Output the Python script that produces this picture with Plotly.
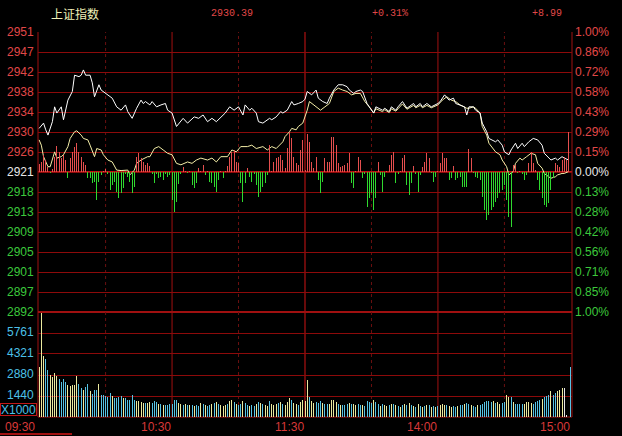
import plotly.graph_objects as go

# ---------------- data ----------------
INDEX_NAME = "上证指数"
PRE_CLOSE = 2921.40
LAST_PRICE = "2930.39"
CHG_PCT = "+0.31%"
CHG = "+8.99"

time_labels = ["09:30", "10:30", "11:30", "14:00", "15:00"]
time_label_min = [0, 60, 120, 180, 240]

left_labels = ["2951", "2947", "2942", "2938", "2934", "2930", "2926", "2921",
               "2918", "2913", "2909", "2905", "2901", "2897", "2892"]
right_labels = ["1.00%", "0.86%", "0.72%", "0.58%", "0.43%", "0.29%", "0.15%", "0.00%",
                "0.13%", "0.28%", "0.42%", "0.56%", "0.71%", "0.85%", "1.00%"]
level_steps = [7, 6, 5, 4, 3, 2, 1, 0, -1, -2, -3, -4, -5, -6, -7]  # in 1/7 of 1%

vol_labels = ["5761", "4321", "2880", "1440"]
vol_ticks = [5761, 4321, 2880, 1440]
VOL_MAX = 7201

# index (white) line: minute index, price
white_t = [0, 2, 3, 4, 6, 7, 8, 10, 11, 13, 15, 16, 18, 19, 20, 21, 23, 24, 25, 27, 28, 30, 33, 35, 37, 39, 40, 42,
           44, 46, 47, 48, 50, 51, 53, 55, 57, 58, 60, 62, 65, 67, 70, 72, 74, 76, 78, 80, 82, 84, 86, 88, 90, 92,
           93, 95, 96, 98, 99, 101, 104, 105, 107, 109, 110, 112, 114, 115, 117, 119, 120, 121, 123, 125, 126, 128,
           130, 131, 133, 135, 137, 139, 140, 142, 143, 145, 146, 148, 149, 151, 152, 155, 156, 158, 159, 161, 162,
           164, 166, 167, 169, 170, 172, 173, 175, 177, 179, 180, 181, 183, 185, 187, 188, 190, 192, 193, 194, 196,
           197, 199, 200, 202, 203, 206, 207, 209, 210, 212, 213, 215, 216, 218, 219, 221, 223, 225, 227, 228, 230,
           231, 233, 234, 236, 237, 239]
white_v = [2930.5, 2931.6, 2930.2, 2929.1, 2931.9, 2935.0, 2933.7, 2935.0, 2932.3, 2936.4, 2938.2, 2941.6, 2941.3,
           2941.6, 2942.7, 2941.6, 2941.6, 2940.0, 2937.1, 2939.6, 2938.5, 2937.8, 2936.8, 2935.0, 2934.3, 2935.4,
           2934.0, 2932.6, 2934.7, 2936.4, 2935.7, 2936.1, 2935.4, 2936.1, 2935.0, 2935.4, 2935.7, 2934.3, 2933.7,
           2930.9, 2932.6, 2931.6, 2932.9, 2932.6, 2933.3, 2931.9, 2932.6, 2931.9, 2932.9, 2933.7, 2935.0, 2934.3,
           2935.0, 2933.3, 2935.4, 2934.3, 2934.7, 2933.7, 2931.9, 2931.6, 2932.6, 2932.3, 2932.9, 2934.0, 2933.7,
           2934.3, 2936.1, 2935.4, 2935.7, 2936.1, 2936.6, 2938.2, 2937.5, 2938.5, 2936.8, 2936.1, 2935.7, 2936.8,
           2938.5, 2939.6, 2939.6, 2939.2, 2938.5, 2937.8, 2938.2, 2938.5, 2938.2, 2935.7, 2935.0, 2933.7, 2935.0,
           2934.3, 2934.7, 2934.0, 2935.0, 2934.3, 2935.0, 2936.1, 2934.7, 2935.0, 2935.7, 2935.0, 2935.7, 2935.0,
           2935.7, 2935.0, 2935.4, 2935.7, 2936.1, 2937.5, 2936.4, 2936.8, 2935.7, 2935.4, 2935.0, 2933.3, 2935.0,
           2935.0, 2934.3, 2933.7, 2931.6, 2929.8, 2928.4, 2927.7, 2928.1, 2927.0, 2925.6, 2925.0, 2926.0, 2927.4,
           2926.3, 2927.4, 2926.7, 2927.7, 2928.4, 2928.1, 2927.0, 2925.3, 2924.3, 2923.9, 2924.3, 2923.9, 2924.6,
           2924.3, 2923.9]

# leading (yellow) line
avg_t = [0, 1, 2, 4, 5, 7, 8, 10, 11, 13, 14, 16, 17, 19, 20, 22, 23, 25, 26, 28, 29, 31, 33, 35, 37, 40, 41, 43, 44,
         46, 49, 50, 52, 54, 56, 58, 60, 62, 64, 67, 69, 71, 73, 76, 78, 80, 82, 85, 87, 89, 91, 94, 96, 98, 101,
         103, 105, 107, 110, 111, 113, 114, 116, 117, 119, 120, 121, 122, 124, 127, 129, 131, 133, 135, 137, 139,
         141, 143, 145, 147, 149, 151, 152, 155, 156, 158, 159, 161, 162, 164, 166, 167, 169, 170, 172, 173, 175,
         177, 179, 180, 182, 184, 186, 188, 190, 193, 194, 196, 197, 199, 200, 202, 203, 205, 206, 208, 209, 211,
         212, 214, 215, 217, 218, 220, 222, 224, 225, 227, 228, 230, 231, 233, 234, 236, 237, 239]
avg_v = [2928.1, 2927.0, 2924.6, 2922.5, 2922.5, 2925.6, 2924.3, 2924.6, 2925.0, 2926.7, 2928.4, 2929.8, 2930.0,
         2929.1, 2928.4, 2928.1, 2927.0, 2924.6, 2926.3, 2926.0, 2925.0, 2923.9, 2923.5, 2921.8, 2921.7, 2921.8,
         2920.8, 2921.8, 2923.2, 2923.9, 2924.6, 2924.6, 2926.3, 2926.7, 2926.0, 2925.3, 2925.0, 2923.2, 2922.9,
         2923.5, 2923.2, 2923.9, 2924.3, 2923.9, 2924.3, 2923.5, 2924.6, 2924.6, 2926.0, 2925.6, 2926.7, 2926.7,
         2927.0, 2926.3, 2926.7, 2926.0, 2926.7, 2926.3, 2927.7, 2928.8, 2929.8, 2930.5, 2930.2, 2930.9, 2931.6,
         2932.9, 2934.3, 2936.1, 2935.4, 2934.3, 2935.0, 2935.7, 2938.2, 2938.9, 2938.5, 2938.2, 2937.5, 2937.8,
         2937.8, 2936.1, 2935.0, 2933.7, 2934.6, 2934.0, 2934.4, 2933.8, 2934.6, 2934.1, 2934.6, 2935.6, 2934.5,
         2934.8, 2935.3, 2934.8, 2935.3, 2934.8, 2935.3, 2934.8, 2935.1, 2935.4, 2936.4, 2937.1, 2936.4, 2936.1,
         2935.4, 2934.7, 2934.7, 2935.0, 2934.7, 2933.7, 2930.9, 2929.1, 2927.4, 2926.3, 2925.6, 2925.0, 2923.9,
         2922.5, 2920.8, 2921.5, 2923.2, 2924.3, 2923.9, 2924.6, 2925.3, 2925.0, 2923.2, 2922.2, 2921.1, 2920.4,
         2920.1, 2920.4, 2920.8, 2921.1, 2921.1, 2921.5]

# buy/sell strength bars (positive red, negative green), one per minute
strength = [
    8, 10, 17, 12, 5, -1, 3, 15, 26, 20,
    14, 17, 12, -6, 14, 20, 25, 29, 20, 15,
    10, 7, -6, -6, -11, -10, -28, -10, -3, 1,
    3, -2, -18, -13, -10, -20, -26, -21, -16, -2,
    -5, -10, -21, -15, 15, 19, 14, 10, 7, 9,
    6, -2, -11, -2, -6, -5, -8, -2, -5, -3,
    -28, -40, -30, -12, -2, 5, 1, -1, 1, -13,
    -16, -11, 4, 1, 7, -3, 1, -10, -11, -15,
    -20, -8, 1, -6, 1, 6, 15, 20, 22, 10,
    9, -11, -30, -11, 4, -5, -10, -2, -13, -25,
    -20, -15, -11, -3, 27, 1, 10, 14, 15, 17,
    12, 4, 24, 40, 34, 15, 9, 7, 22, 32,
    2, 38, 30, 10, 4, 15, -8, -21, -10, 14,
    10, 10, 35, 35, 27, 9, 5, 6, 7, 9,
    19, -11, -16, 1, 15, 12, -6, -2, -35, -26,
    -21, -38, -26, 10, -3, -20, -5, 1, 7, 17,
    20, -11, -2, 1, 14, 17, -13, -23, -11, 6,
    -2, -20, -3, 5, 10, 19, 14, -1, -10, -5,
    1, 9, 19, 14, 14, -8, -6, 6, -8, -6,
    -5, -15, -15, -15, 23, 14, -1, -5, -6, -8,
    -25, -38, -48, -43, -38, -35, -30, -26, -21, -18,
    -13, -28, -45, -55, 7, 7, -1, 1, -2, -8,
    -3, 9, 20, 9, 2, -8, -18, -26, -33, -35,
    -31, -18, -6, 9, 7, 5, 12, 15, 12, 40,
    0]

# volume (x1000 lots), one per minute
volume = [
    3430, 7150, 4190, 3960, 3200, 2860, 2740, 3020, 2790, 2590,
    2400, 2590, 2400, 2170, 2130, 2170, 2170, 2810, 2240, 1990,
    1870, 2060, 2240, 1780, 1560, 1830, 1830, 2240, 1490, 1490,
    1420, 1370, 1670, 1440, 1320, 1280, 1370, 1420, 1280, 1280,
    1140, 1190, 1490, 1140, 1100, 1100, 1030, 980, 980, 960,
    1030, 960, 1080, 1030, 870, 870, 820, 820, 820, 870,
    870, 1140, 1140, 980, 870, 820, 870, 820, 820, 820,
    750, 820, 750, 980,
    900, 820, 750, 800, 870, 960, 1030, 890, 820, 750,
    800, 870, 1100, 1200, 1030, 890, 820, 870, 1100, 960,
    800, 750, 820, 750, 870, 1030, 960, 870, 800, 750,
    1100, 870, 820, 890, 960, 1030, 890, 820, 1030, 1300,
    1200, 960, 890, 820, 1030, 1200, 1100, 2540, 1370, 1100,
    960, 1030, 960, 1100, 960, 890, 870, 890, 1200, 1140,
    1030, 890, 820, 800, 820, 870, 960, 870, 890, 800,
    870, 820, 800, 750, 1100, 1030, 960, 1140, 1030, 870,
    750, 890, 800, 750, 800, 870, 890, 820, 750, 700,
    820, 870, 820, 960, 800, 750, 700, 870, 750, 700,
    750, 820, 800, 700, 750, 700, 750, 800, 870, 820,
    800, 750, 700, 750, 700, 750, 800, 820, 870, 960,
    890, 820, 750, 700, 800, 820,
    870, 1030, 1080, 1080, 1030, 1080, 960, 1030, 890, 960,
    1030, 1490, 1370, 1370, 1030, 890, 870, 870, 870, 870,
    1030, 1030, 980, 870, 1030, 1080, 1140, 1210, 1370, 1420,
    1530, 1760, 1530, 1670, 1780, 1830, 2010, 2010, 110, 0,
    3450]

# minute direction: u = up (yellow volume), d = down (cyan volume), a = closing auction
vol_dir = ("uuudduuuudddd"                 # 0-12
           "uuuuudduddudddudd" "d"         # 13-30
           "ddudddduddddduuuuduu"          # 31-50
           "dddududddddduudududud" "du"    # 51-73
           "duddud"                        # 74-79
           "uduuuduudu"                    # 80-89
           "ddudduddud"                    # 90-99
           "uduuduuudu"                    # 100-109
           "duuuduuduuu"                   # 110-120
           "uduudddudd" "u"                # 121-131
           "uuududdduduuddud"              # 132-147
           "dddudduduudud"                 # 148-160
           "udududududududududud"          # 161-180
           "uuuduudduddudduddud"           # 181-199
           "ddddduduudduud"                # 200-213
           "udddduuuudddduddduddu" "uuaaa")  # 214-240
vol_dir = (vol_dir + "d" * 241)[:241]

minutes = list(range(241))

# ---------------- styling ----------------
BG = "#000000"
GRID = "#8c0a0a"
RED_TXT = "#e04848"
GREEN_TXT = "#3cc83c"
CYAN_TXT = "#4cc0e8"
FONT = "Liberation Sans, Arial, sans-serif"
MONO = "Liberation Mono, DejaVu Sans Mono, monospace"

PLOT_W = 534
VOL_FRAC = 105 / 385.0
BAR_W = 241.0 / PLOT_W  # exactly one screen pixel wide

price_lo = PRE_CLOSE * 0.99
price_hi = PRE_CLOSE * 1.01
levels = [PRE_CLOSE * (1 + s / 700.0) for s in level_steps]

# near-opaque rgba colours make plotly snap bar edges to whole pixels (crisp 1px bars)
UP_BAR = "rgba(232,80,80,0.99)"
DN_BAR = "rgba(48,220,48,0.99)"
vcol = {"u": "rgba(238,236,160,0.99)", "d": "rgba(88,196,230,0.99)", "a": "rgba(232,232,232,0.99)"}

fig = go.Figure()

# strength bars
fig.add_trace(go.Bar(
    x=minutes, y=strength,
    marker=dict(color=[UP_BAR if v > 0 else DN_BAR for v in strength], line=dict(width=0)),
    width=BAR_W, yaxis="y3", xaxis="x", showlegend=False, hoverinfo="skip"))

# volume bars
fig.add_trace(go.Bar(
    x=minutes, y=volume,
    marker=dict(color=[vcol[c] for c in vol_dir], line=dict(width=0)),
    width=BAR_W, yaxis="y2", xaxis="x", showlegend=False, hoverinfo="skip"))

# lines
fig.add_trace(go.Scatter(x=avg_t, y=avg_v, mode="lines", line=dict(color="#f4eea8", width=1),
                         yaxis="y", showlegend=False, hoverinfo="skip"))
fig.add_trace(go.Scatter(x=white_t, y=white_v, mode="lines", line=dict(color="#ffffff", width=1),
                         yaxis="y", showlegend=False, hoverinfo="skip"))

shapes = []
# zero line
shapes.append(dict(type="line", xref="paper", x0=0, x1=1, yref="y", y0=PRE_CLOSE, y1=PRE_CLOSE,
                   line=dict(color="#b81414", width=2), layer="below"))
# separator between price and volume panels
shapes.append(dict(type="line", xref="paper", x0=0, x1=1, yref="paper", y0=VOL_FRAC, y1=VOL_FRAC,
                   line=dict(color="#a01010", width=2), layer="below"))
# bottom line
shapes.append(dict(type="line", xref="paper", x0=0, x1=1, yref="paper", y0=0, y1=0,
                   line=dict(color="#a01010", width=1), layer="below"))
# borders
for xp in (0, 1):
    shapes.append(dict(type="line", xref="paper", x0=xp, x1=xp, yref="paper", y0=0, y1=1,
                       line=dict(color="#a01010", width=1), layer="below"))
# vertical grid
for m in (60, 120, 180):
    shapes.append(dict(type="line", xref="x", x0=m, x1=m, yref="paper", y0=0, y1=1,
                       line=dict(color="#a01010", width=1.3 if m == 120 else 1), layer="below"))
for m in (30, 90, 150, 210):
    shapes.append(dict(type="line", xref="x", x0=m, x1=m, yref="paper", y0=0, y1=1,
                       line=dict(color="#6a1010", width=1, dash="dot"), layer="below"))
# small tab underline at bottom-left
shapes.append(dict(type="line", xref="paper", x0=-38 / 534.0, x1=34 / 534.0, yref="paper",
                   y0=-17 / 385.0, y1=-17 / 385.0, line=dict(color="#a01010", width=2)))

annotations = []
for lab_l, lab_r, s, lv in zip(left_labels, right_labels, level_steps, levels):
    col = RED_TXT if s > 0 else (GREEN_TXT if s < 0 else "#e8e8e8")
    annotations.append(dict(xref="paper", x=0, xanchor="right", xshift=-2, yref="y", y=lv,
                            yanchor="middle", text=lab_l, showarrow=False,
                            font=dict(family=FONT, size=12, color=col)))
    annotations.append(dict(xref="paper", x=1, xanchor="left", xshift=1, yref="y", y=lv,
                            yanchor="middle", text=lab_r, showarrow=False,
                            font=dict(family=FONT, size=12, color=col)))
for lab, v in zip(vol_labels, vol_ticks):
    annotations.append(dict(xref="paper", x=0, xanchor="right", xshift=-2, yref="y2", y=v,
                            yanchor="middle", yshift=1, text=lab, showarrow=False,
                            font=dict(family=FONT, size=12, color=CYAN_TXT)))
annotations.append(dict(xref="paper", x=0, xanchor="right", xshift=-1, yref="y2", y=0,
                        yanchor="bottom", yshift=1, text="X1000", showarrow=False,
                        bordercolor="#c01818", borderwidth=1, borderpad=0, height=11,
                        font=dict(family=FONT, size=12, color=CYAN_TXT)))
for lab, m in zip(time_labels, time_label_min):
    annotations.append(dict(xref="x", x=m, xanchor="right", xshift=(-2 if m == 0 else 1),
                            yref="paper", y=0, yanchor="top", yshift=-1, text=lab, showarrow=False,
                            font=dict(family=FONT, size=12, color="#d83838")))
# header
annotations.append(dict(xref="paper", x=11 / 534.0, xanchor="left", yref="paper", y=1, yshift=19,
                        yanchor="middle", text=INDEX_NAME, showarrow=False,
                        font=dict(family="Noto Sans CJK SC, sans-serif", size=12, color="#f0f0b8")))
for txt, px in ((LAST_PRICE, 171), (CHG_PCT, 332), (CHG, 492)):
    annotations.append(dict(xref="paper", x=px / 534.0, xanchor="left", yref="paper", y=1, yshift=19,
                            yanchor="middle", text=txt, showarrow=False,
                            font=dict(family=MONO, size=10, color=RED_TXT)))

fig.update_layout(
    width=622, height=436,
    margin=dict(l=38, r=50, t=32, b=19, pad=0),
    paper_bgcolor=BG, plot_bgcolor=BG,
    barmode="overlay", bargap=0, bargroupgap=0,
    hovermode=False,
    xaxis=dict(range=[-0.5, 240.5], showgrid=False, zeroline=False, showticklabels=False,
               ticks="", showline=False, anchor="y2", fixedrange=True),
    yaxis=dict(domain=[VOL_FRAC, 1], range=[price_lo, price_hi], tickvals=levels,
               showticklabels=False, ticks="", gridcolor=GRID, gridwidth=1, zeroline=False,
               showline=False, fixedrange=True),
    yaxis2=dict(domain=[0, VOL_FRAC], range=[0, VOL_MAX], tickvals=vol_ticks + [VOL_MAX],
                showticklabels=False, ticks="", gridcolor=GRID, gridwidth=1, zeroline=False,
                showline=False, fixedrange=True),
    yaxis3=dict(overlaying="y", range=[-140, 140], visible=False, fixedrange=True),
    shapes=shapes, annotations=annotations,
    showlegend=False,
)

fig.write_html("out.html",
               config={"displayModeBar": False},
               post_script="document.body.style.margin='0';document.body.style.padding='0';"
                           "document.body.style.background='#000';")
